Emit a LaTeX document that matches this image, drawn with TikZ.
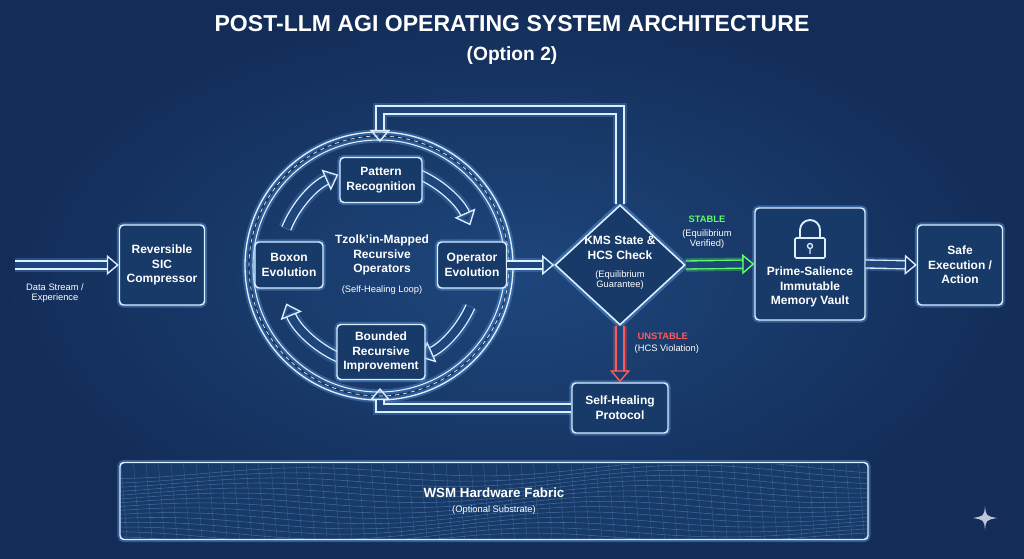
\documentclass[tikz,border=0pt]{standalone}
\usepackage{fontspec}
\setmainfont{Liberation Sans}
\usetikzlibrary{shapes.geometric,arrows.meta,shadings}
\definecolor{bgA}{HTML}{1E467C}
\definecolor{bgB}{HTML}{132D58}
\definecolor{boxf}{HTML}{173A68}
\definecolor{glow}{HTML}{6FB6FF}
\definecolor{ln}{HTML}{DDEEFF}
\definecolor{grn}{HTML}{5CFF6A}
\definecolor{rd}{HTML}{FF5A5A}
\tikzset{
 x=0.75pt,y=-0.75pt,
 box/.style={draw=ln,line width=1.1pt,rounded corners=3pt,fill=boxf,
   preaction={draw=glow,line width=4pt,opacity=.35},
   text=white,font=\bfseries\small,align=center,inner sep=2pt},
 wire/.style={draw=ln,line width=1pt,preaction={draw=glow,line width=4pt,opacity=.3}},
 fat/.style={draw=ln,line width=1pt,double=bgA,double distance=5pt,preaction={draw=glow,line width=10pt,opacity=.25}},
 tip/.style={-{Triangle[open,length=9pt,width=15pt,line width=1pt]}},
 sub/.style={text=white,font=\footnotesize,align=center},
}
\begin{document}
\begin{tikzpicture}
\useasboundingbox (0,0) rectangle (1024,559);
\shade[inner color=bgA,outer color=bgB] (0,0) rectangle (1024,559);
% title
\node[text=white,font=\bfseries\LARGE] (t1) at (512,24) {POST-LLM AGI OPERATING SYSTEM ARCHITECTURE};
\node[text=white,font=\bfseries\Large] (t2) at (512,56) {(Option 2)};
% input
\node[sub,font=\scriptsize] (ds) at (55,293) {Data Stream /\\Experience};
\coordinate (in0) at (15,265);
\node[box,minimum width=85pt*0.75,minimum height=80pt*0.75] (sic) at (162,265) {Reversible\\SIC\\Compressor};
\draw[fat,tip] (in0) -- (sic.west);
% circle
\coordinate (c) at (379,266);
\draw[wire] (c) circle[radius=134];
\draw[wire,line width=.8pt] (c) circle[radius=126];
\draw[ln!60,line width=.5pt,dashed] (c) circle[radius=130];
% inner arrows (visual clockwise)
\foreach \a/\b in {-158/-114,-66/-24,24/66,114/158}{
 \draw[ln,line width=1pt,double=bgA,double distance=6pt,preaction={draw=glow,line width=12pt,opacity=.2},-{Triangle[open,length=10pt,width=17pt]}] (c) ++(\a:100) arc[start angle=\a,end angle=\b,radius=100];
}
\node[box,minimum width=82pt*0.75,minimum height=45pt*0.75] (pr) at (381,180) {Pattern\\Recognition};
\node[box,minimum width=68pt*0.75,minimum height=46pt*0.75] (bx) at (289,265) {Boxon\\Evolution};
\node[box,minimum width=69pt*0.75,minimum height=46pt*0.75] (op) at (472,265) {Operator\\Evolution};
\node[box,minimum width=88pt*0.75,minimum height=55pt*0.75] (br) at (381,352) {Bounded\\Recursive\\Improvement};
\node[text=white,font=\bfseries\small,align=center] (tz) at (382,255) {Tzolk'in-Mapped\\Recursive\\Operators};
\node[sub,font=\scriptsize] (sh) at (382,290) {(Self-Healing Loop)};
% diamond
\node[diamond,draw=ln,line width=1.2pt,fill=boxf,preaction={draw=glow,line width=5pt,opacity=.35},minimum width=130pt*0.75,minimum height=120pt*0.75,inner sep=0pt] (km) at (620,265) {};
\node[text=white,font=\bfseries\small,align=center] (kt) at (620,248) {KMS State \&\\HCS Check};
\node[sub,font=\scriptsize] (kt2) at (620,280) {(Equilibrium\\Guarantee)};
\draw[fat,tip] (op.east) -- (km.west);
% vault
\node[box,minimum width=110pt*0.75,minimum height=112pt*0.75] (vt) at (810,264) {};
\node[text=white,font=\bfseries\small,align=center] (vtt) at (810,287) {Prime-Salience\\Immutable\\Memory Vault};
\draw[ln,line width=1.4pt] (800,238) -- (800,230) arc[start angle=180,end angle=360,radius=10] -- (820,238);
\draw[ln,line width=1.2pt,rounded corners=1pt,fill=boxf] (795,238) rectangle (825,258);
\draw[ln,line width=1pt] (810,246) circle[radius=2.5] (810,248.5)--(810,254);
\draw[draw=grn,line width=1pt,double=bgA,double distance=5pt,preaction={draw=grn,line width=10pt,opacity=.3},tip] (km.east) -- (vt.west);
\node[text=grn,font=\bfseries\scriptsize] (st) at (707,219) {STABLE};
\node[sub,font=\scriptsize] (st2) at (707,239) {(Equilibrium\\Verified)};
% safe exec
\node[box,minimum width=85pt*0.75,minimum height=80pt*0.75] (se) at (960,265) {Safe\\Execution /\\Action};
\draw[fat,tip] (vt.east) -- (se.west);
% self healing
\node[box,minimum width=96pt*0.75,minimum height=50pt*0.75] (shp) at (620,408) {Self-Healing\\Protocol};
\draw[draw=rd,line width=1pt,double=bgA,double distance=5pt,preaction={draw=rd,line width=10pt,opacity=.3},tip] (km.south) -- (shp.north);
\node[text=rd,font=\bfseries\scriptsize,anchor=west] (us) at (633,336) {UNSTABLE};
\node[sub,font=\scriptsize,anchor=west] (us2) at (630,349) {(HCS Violation)};
% feedback loops
\coordinate (ct) at (380,142);
\coordinate (cb) at (380,388);
\draw[fat,tip] (km.north) -- (620,110) -- (380,110) -- (ct);
\draw[fat,tip] (shp.west) -- (380,408) -- (cb);
% fabric
\node[box,minimum width=748pt*0.75,minimum height=77pt*0.75,fill=boxf] (wf) at (494,501) {};
\begin{scope}
\clip[rounded corners=3pt] (121,464) rectangle (867,539);
\foreach \k in {0,...,14}{
 \draw[glow!80,opacity=.35,line width=.4pt,domain=121:867,samples=80] plot (\x,{470+\k*5+6*sin(\x*0.9+\k*12)+4*sin(\x*0.37)});
}
\foreach \k in {0,...,60}{
 \draw[glow!80,opacity=.25,line width=.3pt] (121+\k*12.5,464) -- (127+\k*12.5,539);
}
\end{scope}
\node[text=white,font=\bfseries\normalsize] (wt) at (494,493) {WSM Hardware Fabric};
\node[sub,font=\scriptsize] (wt2) at (494,510) {(Optional Substrate)};
% star mark
\node (star) at (985,518) {};
\fill[white!70!bgA] (985,506) .. controls (986,516) .. (997,518) .. controls (986,520) .. (985,530) .. controls (984,520) .. (973,518) .. controls (984,516) .. (985,506);
\end{tikzpicture}
\end{document}
